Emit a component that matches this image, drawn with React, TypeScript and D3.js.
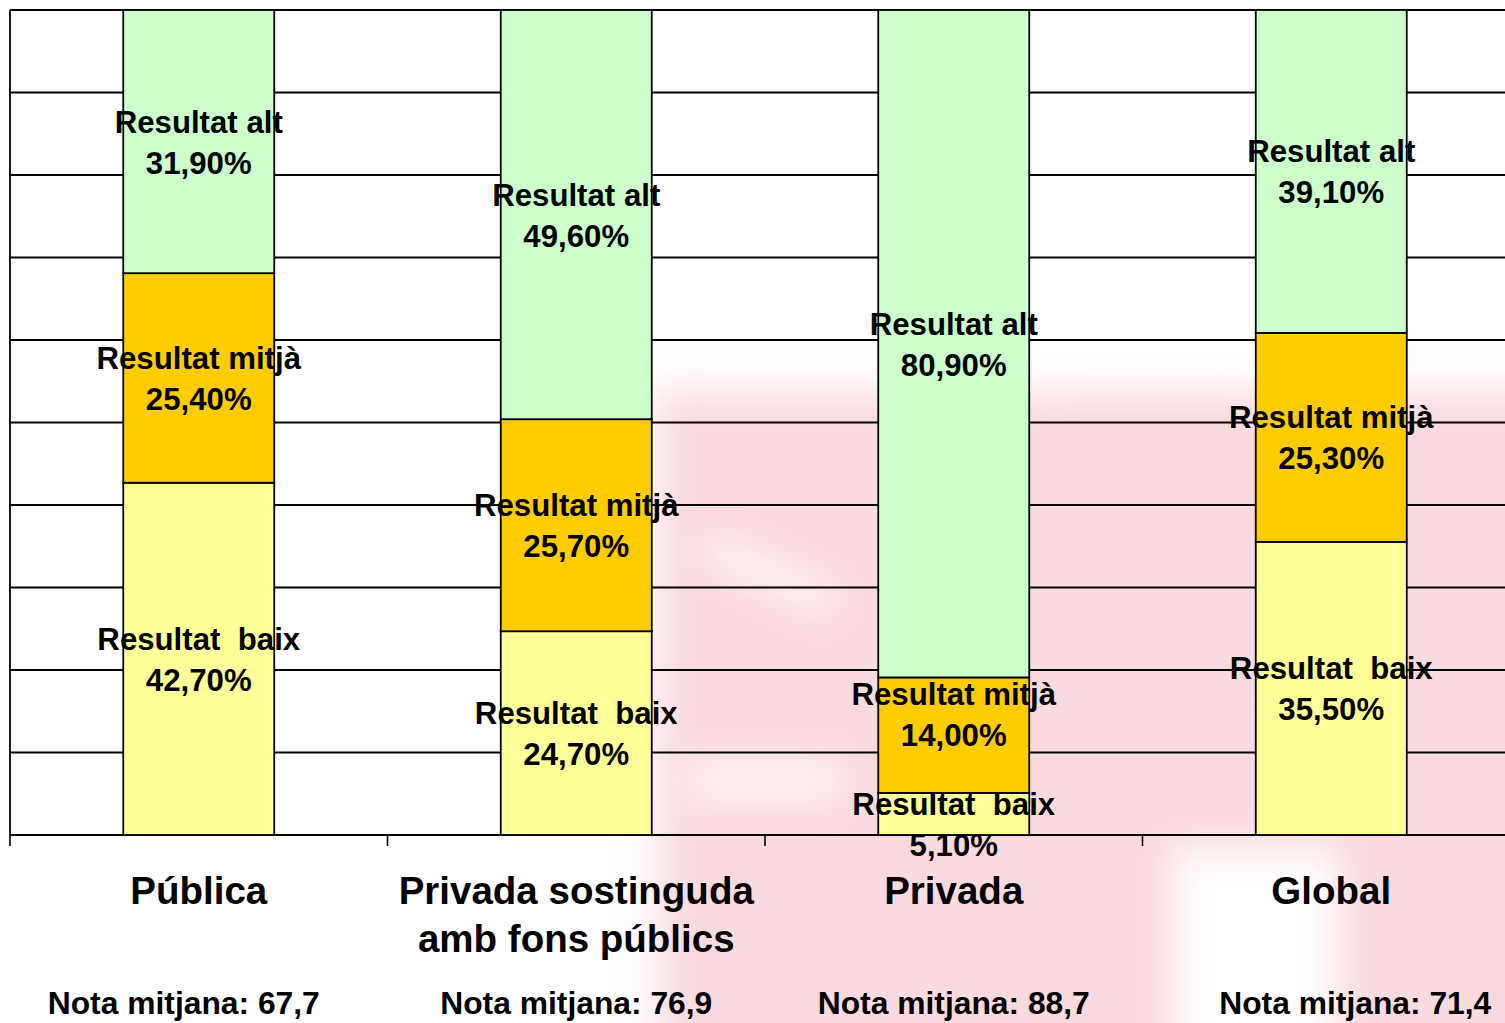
import React from "react";
import * as d3 from "d3";

const categories = ["Pública", "Privada sostinguda amb fons públics", "Privada", "Global"];
const categoryLines = [["Pública"], ["Privada sostinguda", "amb fons públics"], ["Privada"], ["Global"]];
const notaMitjana = ["67,7", "76,9", "88,7", "71,4"];
const seriesNames = ["Resultat  baix", "Resultat mitjà", "Resultat alt"];
const baix = [42.7, 24.7, 5.1, 35.5];
const mitja = [25.4, 25.7, 14.0, 25.3];
const alt = [31.9, 49.6, 80.9, 39.1];
const seriesColors = ["#ffff99", "#ffcc00", "#ccffcc"];
const gridTicks = [0, 0.1, 0.2, 0.3, 0.4, 0.5, 0.6, 0.7, 0.8, 0.9, 1.0];

// layout tweaks (not data)
const notaDx = [-15, 0, 0, 24];
const labelDy: Record<string, number> = { "2-0": 10, "2-1": -21 };

const W = 1505;
const H = 1023;
const left = 10;
const top = 10;
const bottom = 835;
const right = 1520;

const fmt = (v: number) => v.toFixed(2).replace(".", ",") + "%";

export default function App() {
  const x = d3.scaleBand<string>().domain(categories).range([left, right]).paddingInner(0.6).paddingOuter(0.3);
  const y = d3.scaleLinear().domain([0, 1]).range([bottom, top]);
  const step = x.step();
  const values = [baix, mitja, alt];
  const rows = categories.map((c, i) => {
    const obj: any = { cat: c };
    seriesNames.forEach((s, k) => (obj[s] = values[k][i]));
    return obj;
  });
  const stack = d3.stack<any>().keys(seriesNames).offset(d3.stackOffsetExpand);
  const stacked = stack(rows);
  const font = "'Liberation Sans', Arial, sans-serif";

  return (
    <svg width={W} height={H} style={{ position: "absolute", left: 0, top: 0, background: "#fff" }}>
      <defs>
        <filter id="blur" x="-20%" y="-20%" width="140%" height="140%">
          <feGaussianBlur stdDeviation="18" />
        </filter>
      </defs>
      <rect x={0} y={0} width={W} height={H} fill="#fff" />
      {/* faint watermark */}
      <g filter="url(#blur)" opacity={0.85}>
        <rect x={655} y={390} width={900} height={700} fill="#f9d5da" />
        <rect x={1175} y={850} width={160} height={220} fill="#ffffff" />
        <rect x={1040} y={330} width={220} height={60} fill="#ffffff" />
        <rect x={700} y={560} width={140} height={30} fill="#fdeef0" transform="rotate(25 770 575)" />
        <rect x={690} y={760} width={150} height={40} fill="#fdeef0" />
      </g>
      {/* gridlines */}
      {gridTicks.map((t) => (
        <line key={t} x1={left} x2={W} y1={y(t)} y2={y(t)} stroke="#000" strokeWidth={1.8} />
      ))}
      <line x1={left} x2={left} y1={top} y2={bottom} stroke="#000" strokeWidth={1.8} />
      {/* category ticks */}
      {categories.map((c, i) => (
        <line key={c} x1={left + i * step} x2={left + i * step} y1={bottom} y2={bottom + 11} stroke="#000" strokeWidth={1.6} />
      ))}
      {/* bars */}
      {stacked.map((layer, k) =>
        layer.map((d, i) => (
          <rect
            key={k + "-" + i}
            x={x(categories[i])}
            y={y(d[1])}
            width={x.bandwidth()}
            height={y(d[0]) - y(d[1])}
            fill={seriesColors[k]}
            stroke="#000"
            strokeWidth={1.8}
          />
        ))
      )}
      {/* data labels */}
      {stacked.map((layer, k) =>
        layer.map((d, i) => {
          const cx = (x(categories[i]) as number) + x.bandwidth() / 2;
          const cy = (y(d[0]) + y(d[1])) / 2 + (labelDy[i + "-" + k] || 0);
          return (
            <text
              key={"l" + k + "-" + i}
              x={cx}
              textAnchor="middle"
              fontFamily={font}
              fontWeight="bold"
              fontSize={31.2}
              fill="#000"
              style={{ whiteSpace: "pre" }}
            >
              <tspan x={cx} y={cy - 9}>{seriesNames[k]}</tspan>
              <tspan x={cx} y={cy + 32}>{fmt(values[k][i])}</tspan>
            </text>
          );
        })
      )}
      {/* category labels */}
      {categories.map((c, i) => {
        const cx = (x(c) as number) + x.bandwidth() / 2;
        return (
          <g key={"c" + i}>
            <text textAnchor="middle" fontFamily={font} fontWeight="bold" fontSize={38.5} fill="#000">
              {categoryLines[i].map((ln, j) => (
                <tspan key={j} x={cx} y={904 + j * 48}>{ln}</tspan>
              ))}
            </text>
            <text x={cx + notaDx[i]} y={1014} textAnchor="middle" fontFamily={font} fontWeight="bold" fontSize={31.8} fill="#000">
              {"Nota mitjana: " + notaMitjana[i]}
            </text>
          </g>
        );
      })}
    </svg>
  );
}
